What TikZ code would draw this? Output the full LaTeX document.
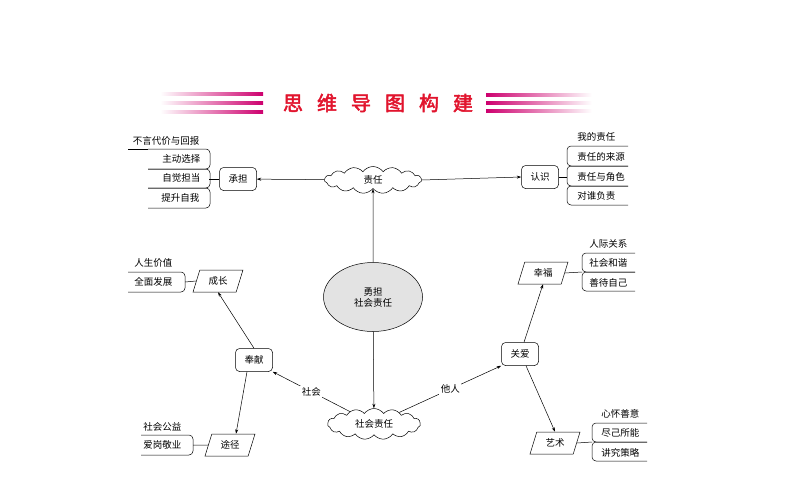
\documentclass[tikz,border=0pt]{standalone}
\usepackage{fontspec}
\newfontfamily\cjk{Noto Sans CJK SC}[AutoFakeBold=2.5]
\usetikzlibrary{arrows.meta,shapes.geometric,shapes.symbols}
\definecolor{stripe}{RGB}{205,0,110}
\definecolor{ttlred}{RGB}{225,20,45}

\begin{document}
\begin{tikzpicture}[x=1pt,y=-1pt,>={Stealth[length=4.5pt,width=3pt]},
 font=\cjk\fontsize{9.5}{11}\selectfont,line width=0.5pt,
 bx/.style={draw,rounded corners=4pt,minimum width=37pt,minimum height=23pt,inner sep=1pt},
 para/.style={draw,trapezium,trapezium left angle=70,trapezium right angle=110,minimum width=50pt,minimum height=22pt,trapezium stretches=true,inner sep=1pt},
 cld/.style={draw,cloud,cloud puffs=15,cloud puff arc=110,aspect=3.6,inner sep=1pt},
 itm/.style={inner sep=0pt,anchor=west},
 lbl/.style={fill=white,inner sep=1.5pt},
 brk/.style={rounded corners=4pt}]
\useasboundingbox (0,0) rectangle (794,495);
% title bar
\foreach \y in {94,103,112} \shade[left color=white,right color=stripe] (160,\y-1.6) rectangle (263,\y+1.6);
\foreach \y in {95,103,111} \shade[left color=stripe,right color=white] (486,\y-1.6) rectangle (592,\y+1.6);
\node[font=\cjk\fontsize{20}{22}\selectfont\bfseries,text=ttlred] (ttl) at (378,103) {思\hspace{14pt}维\hspace{14pt}导\hspace{14pt}图\hspace{14pt}构\hspace{14pt}建};
% centre
\node[draw,ellipse,fill=gray!22,minimum width=99pt,minimum height=69pt,align=center] (core) at (373,297) {勇担\\社会责任};
\node[cld,minimum width=97pt,minimum height=27pt] (zr) at (373,180) {责任};
\node[cld,minimum width=93pt,minimum height=31pt] (shzr) at (374,424) {社会责任};
\node[bx] (cd) at (238,179) {承担};
\node[bx] (rs) at (540,177) {认识};
\node[bx] (fx) at (254,360) {奉献};
\node[bx] (ga) at (520,354) {关爱};
\node[para] (cz) at (218,281) {成长};
\node[para] (tj) at (230,445) {途径};
\node[para] (xf) at (543,273) {幸福};
\node[para] (ys) at (555,443) {艺术};
% items
\node[inner sep=0pt] (cd1) at (166,141) {不言代价与回报};
\node[itm] (cd2) at (162,159) {主动选择};
\node[itm] (cd3) at (162,178) {自觉担当};
\node[itm] (cd4) at (161,198) {提升自我};
\node[itm] (rs1) at (577,137) {我的责任};
\node[itm] (rs2) at (577,157) {责任的来源};
\node[itm] (rs3) at (577,177) {责任与角色};
\node[itm] (rs4) at (577,196) {对谁负责};
\node[itm] (cz1) at (134,263) {人生价值};
\node[itm] (cz2) at (134,282) {全面发展};
\node[itm] (tj1) at (143,427) {社会公益};
\node[itm] (tj2) at (143,445) {爱岗敬业};
\node[itm] (xf1) at (589,244) {人际关系};
\node[itm] (xf2) at (589,263) {社会和谐};
\node[itm] (xf3) at (589,283) {善待自己};
\node[itm] (ys1) at (601,414) {心怀善意};
\node[itm] (ys2) at (601,433) {尽己所能};
\node[itm] (ys3) at (601,453) {讲究策略};
% brackets
\draw (128,149) -- (148,149);
\draw[brk] (148,149) -| (210,169) -- (148,169);
\draw[brk] (148,169) -| (210,188) -- (148,188);
\draw[brk] (148,188) -| (210,208) -- (148,208);
\draw (cd.west) -- ++(-10,0);
\draw[brk] (628,146) -| (567,166) -- (628,166);
\draw[brk] (628,166) -| (567,186) -- (628,186);
\draw[brk] (628,186) -| (567,205) -- (628,205);
\draw (rs.east) -- (567,177);
\draw[brk] (128,272) -| (185,292) -- (128,292);
\draw (cz.west) -- (185,282);
\draw[brk] (141,435) -| (193,455) -- (141,455);
\draw (tj.west) -- (193,445);
\draw[brk] (635,253) -| (582,272) -- (635,272);
\draw[brk] (635,272) -| (582,291) -- (635,291);
\draw (xf.east) -- (582,272);
\draw[brk] (647,423) -| (592,442) -- (647,442);
\draw[brk] (647,442) -| (592,461) -- (647,461);
\draw (ys.east) -- (592,442);
% arrows
\draw[->] (core) -- (zr);
\draw[->] (zr) -- (cd);
\draw[->] (zr.east) -- (rs.west);
\draw[->] (core) -- (shzr);
\draw[->] (shzr) -- node[lbl] {社会} (fx.south east);
\draw[->] (shzr) -- node[lbl] {他人} (ga.south west);
\draw[->] (fx.north) -- (cz.south);
\draw[->] ([xshift=-7pt]fx.south) -- ([xshift=6pt]tj.north);
\draw[->] ([xshift=4pt]ga.north) -- (xf.south);
\draw[->] ([xshift=6pt]ga.south) -- (ys.north);
\end{tikzpicture}
\end{document}
